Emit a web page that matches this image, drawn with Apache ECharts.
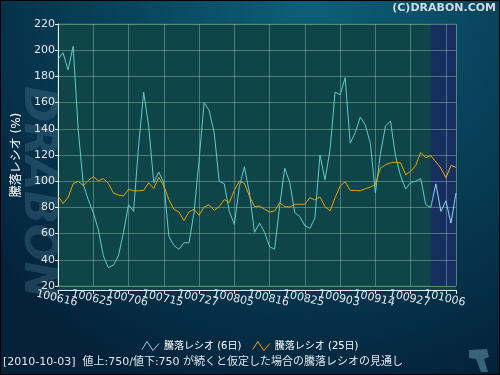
<!DOCTYPE html>
<html>
<head>
<meta charset="utf-8">
<script src="https://cdn.jsdelivr.net/npm/echarts@6/dist/echarts.min.js"></script>
<style>
html,body{margin:0;padding:0;background:#03223a;}
#chart{width:500px;height:375px;}
</style>
</head>
<body>
<div id="chart"></div>
<script>
// ---- data ----
const categories = [
  '100616','100617','100618','100621','100622','100623','100624','100625','100628','100629',
  '100630','100701','100702','100705','100706','100707','100708','100709','100712','100713',
  '100714','100715','100716','100720','100721','100722','100723','100726','100727','100728',
  '100729','100730','100802','100803','100804','100805','100806','100809','100810','100811',
  '100812','100813','100816','100817','100818','100819','100820','100823','100824','100825',
  '100826','100827','100830','100831','100901','100902','100903','100906','100907','100908',
  '100909','100910','100913','100914','100915','100916','100917','100921','100922','100924',
  '100927','100928','100929','100930','101001','101004','101005','101006','101007','101008'
];
const ratio6 = [
  193,198,185,203,140,98,86,76,63,43,
  34,36,43,61,82,77,127,168,142,99,
  107,99,58,51,48,53,53,76,116,160,
  154,137,100,98,77,67,96,111,91,61,
  68,61,50,48,81,110,99,76,73,66,
  64,72,120,101,124,168,166,179,129,137,
  149,143,129,91,121,142,146,119,104,94,
  99,100,102,82,80,98,77,85,68,91
];
const ratio25 = [
  88.7,83,87.6,98,100,96.6,100.6,103.4,100.4,102,
  98.3,91,89.4,88.7,93.8,92.7,92.7,93,98.8,94.5,
  103,96.3,86,78.6,76.5,70,76.5,78.6,74,80.3,
  82,77.8,80.6,86,83.6,93,100,98.3,88.7,80.6,
  81,78.6,76.5,77.3,83.6,80.6,80.3,82.4,82.4,82.4,
  87.4,85.7,88,80.6,77.3,87.4,96.3,99.6,93,93,
  92.7,94.3,95.5,97.6,110,112.5,114,114.5,114,105,
  107.5,112,122,118,119.5,114.8,110,102.6,112,110.6
];
const seriesNames = ['騰落レシオ (6日)', '騰落レシオ (25日)'];
const labelEvery = 7;   // tick label every 7 trading days
const forecastStart = '101001';
const forecastEnd = '101008';
const yMin = 20, yMax = 220, yStep = 20;
const yAxisTitle = '騰落レシオ (%)';
const footnote = '[2010-10-03]  値上:750/値下:750 が続くと仮定した場合の騰落レシオの見通し';
const copyright = '(C)DRABON.COM';

// ---- layout / style ----
const FONT = '"DejaVu Sans", "Noto Sans CJK JP", sans-serif';
const W = 500, H = 375;
const G = {left: 58, right: 44, top: 24, bottom: 89};
const AX_OFFSET = 4;
const forecastFrac = categories.indexOf(forecastStart) / (categories.length - 1);

function splitColor(c1, c2) {
  return new echarts.graphic.LinearGradient(0, 0, 1, 0, [
    {offset: 0, color: c1}, {offset: forecastFrac, color: c1},
    {offset: forecastFrac, color: c2}, {offset: 1, color: c2}
  ]);
}

const chart = echarts.init(document.getElementById('chart'), null, {renderer: 'canvas'});

const option = {
  animation: false,
  backgroundColor: new echarts.graphic.RadialGradient(0.62, 0, 1.1, [
    {offset: 0, color: '#0c6078'},
    {offset: 1, color: '#03223a'}
  ]),
  textStyle: {fontFamily: FONT},
  grid: {
    left: G.left, right: G.right, top: G.top, bottom: G.bottom,
    show: true, backgroundColor: '#0f4448', borderColor: '#2c6e44', borderWidth: 1,
    containLabel: false
  },
  legend: {
    data: [
      {name: seriesNames[0], icon: 'path://M0,9L5,1L11,10L17,3',
       itemStyle: {color: 'transparent', borderColor: '#86d4ea', borderWidth: 1}},
      {name: seriesNames[1], icon: 'path://M0,9L5,1L11,10L17,3',
       itemStyle: {color: 'transparent', borderColor: '#f0a800', borderWidth: 1}}
    ],
    left: 'center', top: 336,
    itemWidth: 17, itemHeight: 10, itemGap: 11,
    textStyle: {color: '#ffffff', fontSize: 10, fontFamily: FONT}
  },
  xAxis: {
    type: 'category',
    data: categories,
    boundaryGap: false,
    offset: AX_OFFSET,
    z: 2,
    axisLine: {lineStyle: {color: '#e8eef0', width: 1}},
    axisTick: {show: true, interval: labelEvery - 1, length: 4, lineStyle: {color: '#e8eef0'}},
    axisLabel: {
      interval: 0, rotate: -13, align: 'center', verticalAlign: 'top', margin: 3,
      formatter: function (v, i) { return i % labelEvery === 0 ? v : ''; },
      color: '#e4e8ea', fontSize: 11, fontFamily: FONT
    },
    splitLine: {show: true, interval: labelEvery - 1, lineStyle: {color: 'rgba(175,215,200,0.38)', width: 1}}
  },
  yAxis: {
    type: 'value',
    min: yMin, max: yMax, interval: yStep,
    z: 2,
    name: yAxisTitle,
    nameLocation: 'middle',
    nameRotate: 90,
    nameGap: 31,
    nameTextStyle: {color: '#ffffff', fontSize: 12, fontFamily: FONT},
    axisLine: {show: true, lineStyle: {color: '#e8eef0', width: 1}},
    axisTick: {show: true, length: 3, lineStyle: {color: '#e8eef0'}},
    axisLabel: {color: '#e4e8ea', fontSize: 11, margin: 3, fontFamily: FONT},
    splitLine: {show: true, lineStyle: {color: 'rgba(175,215,200,0.38)', width: 1}}
  },
  series: [
    {
      name: 'forecast', type: 'line', data: [], z: 1, silent: true,
      markArea: {
        silent: true,
        itemStyle: {color: '#172f5f'},
        data: [[{xAxis: forecastStart}, {xAxis: forecastEnd}]]
      }
    },
    {
      name: seriesNames[0], type: 'line', data: ratio6, z: 3,
      symbol: 'none', lineStyle: {width: 1, color: splitColor('#5ecaca', '#8cd2ee')},
      itemStyle: {color: '#86d4ea'}
    },
    {
      name: seriesNames[1], type: 'line', data: ratio25, z: 3,
      symbol: 'none', lineStyle: {width: 1, color: splitColor('#e6a400', '#f2aa10')},
      itemStyle: {color: '#f0a800'}
    }
  ],
  graphic: [
    {type: 'rect', z: -1, silent: true,
     shape: {x: G.left, y: H - G.bottom, width: W - G.left - G.right, height: AX_OFFSET},
     style: {fill: '#0f4448'}},
    {type: 'text', z: -2, silent: true, x: 14, y: 86, rotation: -Math.PI / 2,
     style: {text: 'DRABON', fill: 'rgba(120,165,185,0.22)',
             font: 'italic bold 44px "DejaVu Sans"', textVerticalAlign: 'bottom'}},
    {type: 'text', silent: true, right: 4, top: 3,
     style: {text: copyright, fill: '#d2dbe0', font: 'bold 11px "DejaVu Sans"'}},
    {type: 'text', silent: true, left: 3, top: 357,
     style: {text: footnote, fill: '#e2e6e8', font: '11px ' + FONT}},
    {type: 'polygon', silent: true,
     shape: {points: [[469,350],[487,349],[489,357],[484,359],[488,372],[481,372],[476,359],[469,358]]},
     style: {fill: 'rgba(80,125,145,0.7)'}},
    {type: 'rect', silent: true, shape: {x: 0.5, y: 0.5, width: W - 1, height: H - 1},
     style: {fill: 'none', stroke: '#000000', lineWidth: 1}}
  ]
};
chart.setOption(option);
</script>
</body>
</html>
